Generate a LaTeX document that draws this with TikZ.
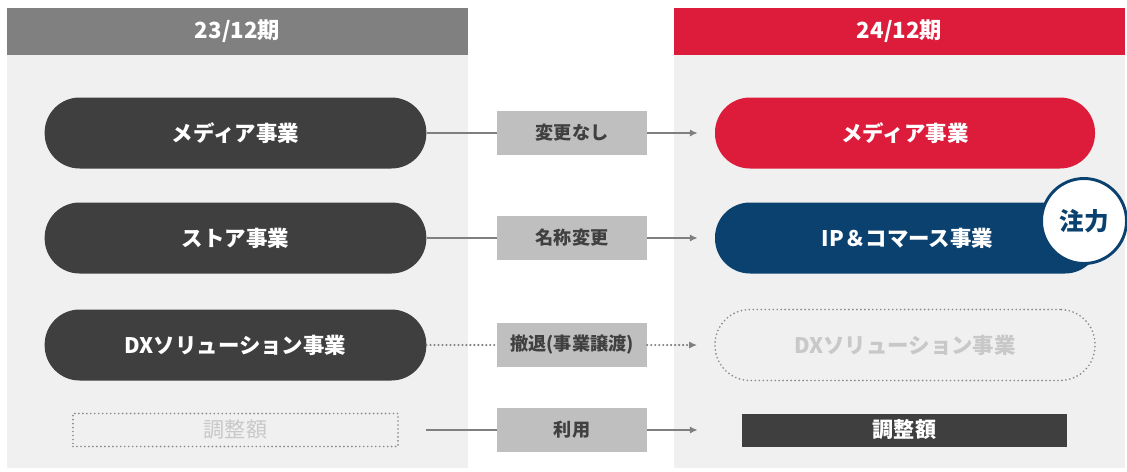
\documentclass[tikz,border=0pt]{standalone}
\usepackage{fontspec}
\setmainfont{Noto Sans CJK JP}
\usetikzlibrary{arrows.meta}
\definecolor{pillc}{HTML}{3F3F3F}
\definecolor{hdrgray}{HTML}{808080}
\definecolor{hdrred}{HTML}{DD1C3C}
\definecolor{panelc}{HTML}{F0F0F0}
\definecolor{midbox}{HTML}{BFBFBF}
\definecolor{midtext}{HTML}{404040}
\definecolor{arrowc}{HTML}{7F7F7F}
\definecolor{navyc}{HTML}{0B416F}
\definecolor{faintc}{HTML}{C8C8C8}
\definecolor{dotc}{HTML}{8A8A8A}
\begin{document}
\begin{tikzpicture}[x=0.03cm,y=-0.03cm,
  hdr/.style={minimum height=1.41cm, inner sep=0, text=white, font=\fontsize{19}{21}\selectfont\bfseries},
  pillbox/.style={rounded corners=1.05cm, minimum width=11.45cm, minimum height=2.13cm, inner sep=0, text=white, font=\fontsize{18.3}{20}\selectfont\bfseries},
  midlabel/.style={fill=midbox, minimum width=4.5cm, minimum height=1.3cm, inner sep=0, text=midtext, font=\fontsize{15.5}{17}\selectfont\bfseries},
  smallbox/.style={minimum width=9.75cm, minimum height=0.99cm, inner sep=0, font=\fontsize{18}{20}\selectfont},
  dotline/.style={line width=1.6pt, dash pattern=on 0pt off 3.4pt, line cap=round},
  conn/.style={draw=arrowc, line width=2pt},
  tip/.style={-{Latex[length=0.24cm,width=0.22cm]}}
]
\fill[white] (0,0) rectangle (1127,471);
\useasboundingbox (0,0) rectangle (1127,471);
% panels
\fill[panelc] (7,55) rectangle (468,468);
\fill[panelc] (674,55) rectangle (1125,468);
% headers
\node[hdr, fill=hdrgray, minimum width=13.83cm] (H1) at (237.5,31.5) {23/12期};
\node[hdr, fill=hdrred, minimum width=13.53cm] (H2) at (899.5,31.5) {24/12期};
% left column
\node[pillbox, fill=pillc] (L1) at (235.5,133) {メディア事業};
\node[pillbox, fill=pillc] (L2) at (235.5,238) {ストア事業};
\node[pillbox, fill=pillc] (L3) at (235.5,345) {DXソリューション事業};
\node[smallbox, draw=dotc, dotline, text=faintc] (L4) at (235.5,430) {調整額};
% middle labels
\node[midlabel] (M1) at (572,133) {変更なし};
\node[midlabel] (M2) at (572,238) {名称変更};
\node[midlabel] (M3) at (572,345) {撤退(事業譲渡)};
\node[midlabel] (M4) at (572,430) {利用};
% right column
\node[pillbox, fill=hdrred, minimum width=11.4cm] (R1) at (905,133) {メディア事業};
\node[pillbox, fill=navyc, minimum width=11.55cm] (R2) at (907.5,238) {IP＆コマース事業};
\node[pillbox, draw=dotc, dotline, minimum width=11.4cm, text=faintc] (R3) at (905,345) {DXソリューション事業};
\node[smallbox, fill=pillc, text=white, font=\fontsize{18}{20}\selectfont\bfseries] (R4) at (904.5,430) {調整額};
% focus badge
\node[circle, draw=navyc, line width=2.5pt, fill=white, minimum size=2.55cm, inner sep=0, text=navyc, font=\fontsize{21}{23}\selectfont\bfseries] (F) at (1084,221) {注力};
% connectors
\draw[conn] (L1) -- (M1);
\draw[conn, tip, shorten >=0.51cm] (M1) -- (R1);
\draw[conn] (L2) -- (M2);
\draw[conn, tip, shorten >=0.51cm] (M2) -- (R2);
\draw[conn, dotline, line width=2pt] (L3) -- (M3);
\draw[conn, dotline, line width=2pt, tip, shorten >=0.51cm] (M3) -- (R3);
\draw[conn, shorten <=0.81cm] (L4) -- (M4);
\draw[conn, tip, shorten >=1.32cm] (M4) -- (R4);
\end{tikzpicture}
\end{document}
